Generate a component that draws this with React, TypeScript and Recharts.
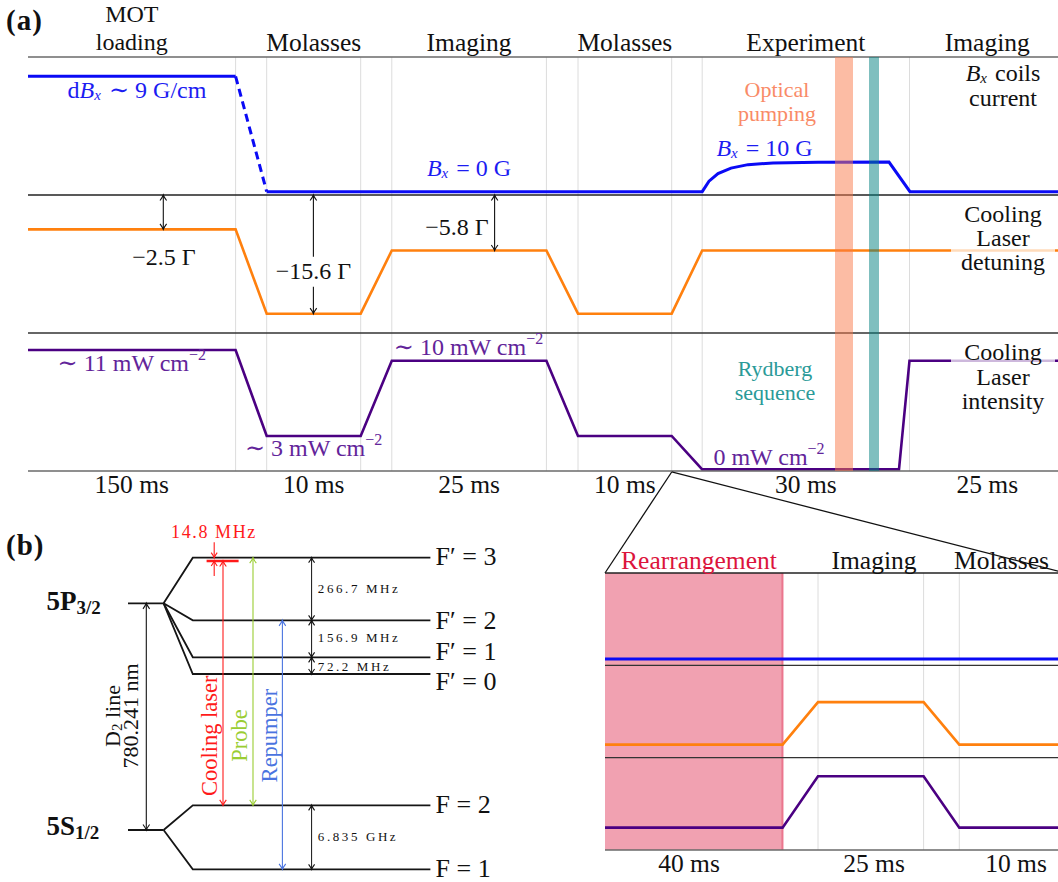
import {
  ComposedChart,
  Line,
  XAxis,
  YAxis,
  ReferenceLine,
  ReferenceArea,
  Scatter,
} from 'recharts'

const SERIF = '"Liberation Serif", "DejaVu Serif", serif'
const INK = '#111111'
const BLUE = '#0a0af5'
const ORANGE = '#ff800e'
const PURPLE = '#4b0082'
const BLUE_TXT = '#1c1cf2'
const PURPLE_TXT = '#62249a'
const SALMON_TXT = '#f98b67'
const TEAL_TXT = '#2a9a98'
const CRIMSON = '#dc143c'
const RED = '#ff1a1a'
const GREEN = '#9acd32'
const ROYAL = '#4a74e0'
const GRID = '#dcdcdc'

// ---------- (a) experimental sequence (schematic time, levels normalised per row)
const PHASES_A = ['MOT\nloading', 'Molasses', 'Imaging', 'Molasses', 'Experiment', 'Imaging']
const DURATIONS_A = ['150 ms', '10 ms', '25 ms', '10 ms', '30 ms', '25 ms']
const PHASE_SPANS_A = [
  [0, 207.6],
  [238.7, 332.7],
  [363.8, 518.4],
  [550, 643.7],
  [674.2, 881.5],
  [881.5, 1037],
]
const PHASE_CENTERS_A = PHASE_SPANS_A.map(([a, b]) => (a + b) / 2)
const STEP_EDGES_A = [207.6, 238.7, 332.7, 363.8, 518.4, 550, 643.7, 674.2, 881.5]

const COIL_MOT = [
  { t: 0, v: 0.86 },
  { t: 207.6, v: 0.86 },
]
const COIL_SWITCH_OFF = [
  { t: 207.6, v: 0.86 },
  { t: 238.7, v: 0.024 },
]
const COIL_REST = [
  { t: 238.7, v: 0.024 },
  { t: 674.2, v: 0.024 },
  { t: 681, v: 0.1 },
  { t: 690, v: 0.155 },
  { t: 703, v: 0.195 },
  { t: 720, v: 0.22 },
  { t: 745, v: 0.232 },
  { t: 790, v: 0.238 },
  { t: 861, v: 0.239 },
  { t: 882, v: 0.024 },
  { t: 1037, v: 0.024 },
]
const DETUNING_A = [
  { t: 0, v: 0.751 },
  { t: 207.6, v: 0.751 },
  { t: 238.7, v: 0.14 },
  { t: 332.7, v: 0.14 },
  { t: 363.8, v: 0.598 },
  { t: 518.4, v: 0.598 },
  { t: 550, v: 0.14 },
  { t: 643.7, v: 0.14 },
  { t: 674.2, v: 0.598 },
  { t: 1037, v: 0.598 },
]
const INTENSITY_A = [
  { t: 0, v: 0.877 },
  { t: 207.6, v: 0.877 },
  { t: 238.7, v: 0.254 },
  { t: 332.7, v: 0.254 },
  { t: 363.8, v: 0.799 },
  { t: 518.4, v: 0.799 },
  { t: 550, v: 0.254 },
  { t: 643.7, v: 0.254 },
  { t: 674.2, v: 0.012 },
  { t: 871, v: 0.012 },
  { t: 881.5, v: 0.799 },
  { t: 1037, v: 0.799 },
]
const OPTICAL_PUMPING = [807, 825]
const RYDBERG = [841, 851]

// detuning arrows, measured from the top of the row
const DET_ARROWS = [
  [{ t: 135.3, v: 1, head: 'up' }, { t: 135.3, v: 0.751, head: 'down' }],
  [{ t: 285.4, v: 1, head: 'up' }, { t: 285.4, v: 0.553 }],
  [{ t: 285.4, v: 0.336 }, { t: 285.4, v: 0.14, head: 'down' }],
  [{ t: 466.6, v: 1, head: 'up' }, { t: 466.6, v: 0.598, head: 'down' }],
]
// light boxes behind the row titles
const FADE_DET = [
  { t: 923, v: 0.598 },
  { t: 1027, v: 0.598 },
]
const FADE_INT = [
  { t: 923, v: 0.799 },
  { t: 1027, v: 0.799 },
]

const TEXT_A = [
  { t: 109, v: 2.761, label: 'dB', color: BLUE_TXT },
  { t: 441, v: 2.196, label: 'Bx0', color: BLUE_TXT },
  { t: 736.5, v: 2.341, label: 'Bx10', color: BLUE_TXT },
  { t: 749, v: 2.764, label: 'Optical', color: SALMON_TXT, size: 22 },
  { t: 749, v: 2.594, label: 'pumping', color: SALMON_TXT, size: 22 },
  { t: 975, v: 2.884, label: 'BxCoils' },
  { t: 975, v: 2.703, label: 'current' },
  { t: 136, v: 1.553, label: '−2.5 Γ' },
  { t: 285.5, v: 1.449, label: '−15.6 Γ' },
  { t: 429, v: 1.768, label: '−5.8 Γ' },
  { t: 975, v: 1.862, label: 'Cooling' },
  { t: 975, v: 1.688, label: 'Laser' },
  { t: 975, v: 1.517, label: 'detuning' },
  { t: 975, v: 0.865, label: 'Cooling' },
  { t: 975, v: 0.683, label: 'Laser' },
  { t: 975, v: 0.509, label: 'intensity' },
  { t: 103.8, v: 0.783, label: 'I11', color: PURPLE_TXT },
  { t: 285.6, v: 0.167, label: 'I3', color: PURPLE_TXT },
  { t: 440.5, v: 0.901, label: 'I10', color: PURPLE_TXT },
  { t: 741, v: 0.104, label: 'I0', color: PURPLE_TXT },
  { t: 747, v: 0.74, label: 'Rydberg', color: TEAL_TXT, size: 22 },
  { t: 747, v: 0.57, label: 'sequence', color: TEAL_TXT, size: 22 },
]

// ---------- (b) zoom on the rearrangement part
const PHASES_B = ['Rearrangement', 'Imaging', 'Molasses']
const PHASE_COLORS_B = [CRIMSON, INK, INK]
const PHASE_TICKS_B = [94, 269, 396.5]
const DURATIONS_B = ['40 ms', '25 ms', '10 ms']
const DURATION_TICKS_B = [84, 269, 411]
const REARRANGE_END = 177.6
const STEP_EDGES_B = [213, 318.6, 354.3]
const COIL_B = [
  { t: 0, v: 0.069 },
  { t: 460, v: 0.069 },
]
const DETUNING_B = [
  { t: 0, v: 0.141 },
  { t: 177.6, v: 0.141 },
  { t: 213, v: 0.602 },
  { t: 318.6, v: 0.602 },
  { t: 354.3, v: 0.141 },
  { t: 460, v: 0.141 },
]
const INTENSITY_B = [
  { t: 0, v: 0.242 },
  { t: 177.6, v: 0.242 },
  { t: 213, v: 0.798 },
  { t: 318.6, v: 0.798 },
  { t: 354.3, v: 0.242 },
  { t: 460, v: 0.242 },
]
const ZOOM_APEX = { x: 66.7, y: 4.094 }

// ---------- (b) Rb-87 D2 level scheme (schematic energies)
const FINE = [
  { name: 'P32', e: 278.7 },
  { name: 'S12', e: 52 },
]
const EXCITED = [
  { name: 'F′ = 3', e: 324.3, labelE: 325.3 },
  { name: 'F′ = 2', e: 261.7, labelE: 262 },
  { name: 'F′ = 1', e: 224.7, labelE: 230.3 },
  { name: 'F′ = 0', e: 208, labelE: 200.3 },
]
const GROUND = [
  { name: 'F = 2', e: 76.7, labelE: 78 },
  { name: 'F = 1', e: 12.7, labelE: 13.7 },
]
const SPLITTINGS = ['266.7 MHz', '156.9 MHz', '72.2 MHz', '6.835 GHz']
const COOLING_TOP = 321

const FINE_X = [128, 163.6]
const FAN_X = 192.8
const LEVEL_END_X = 430.4

const levelPath = (parent: number, e: number) => [
  { x: FINE_X[1], e: parent },
  { x: FAN_X, e },
  { x: LEVEL_END_X, e },
]
const arrow = (x: number, e1: number, e2: number) => [
  { x, e: e1, head: 'up' },
  { x, e: e2, head: 'down' },
]

const LEVEL_LINES = [
  ...FINE.map((f) => [
    { x: FINE_X[0], e: f.e },
    { x: FINE_X[1], e: f.e },
  ]),
  ...EXCITED.map((l) => levelPath(FINE[0].e, l.e)),
  ...GROUND.map((l) => levelPath(FINE[1].e, l.e)),
]
const SPLIT_ARROWS = [
  arrow(311.6, EXCITED[0].e, EXCITED[1].e),
  arrow(311.6, EXCITED[1].e, EXCITED[2].e),
  arrow(311.6, EXCITED[2].e, EXCITED[3].e),
  arrow(311.6, GROUND[0].e, GROUND[1].e),
]
const TRANSITIONS = [
  { color: RED, pts: arrow(223, COOLING_TOP, GROUND[0].e) },
  { color: GREEN, pts: arrow(253, EXCITED[0].e, GROUND[0].e) },
  { color: ROYAL, pts: arrow(282.4, EXCITED[1].e, GROUND[1].e) },
  { color: INK, pts: arrow(146.3, FINE[0].e, FINE[1].e) },
]
const DETUNING_BAR = [
  { x: 206.6, e: COOLING_TOP },
  { x: 238.6, e: COOLING_TOP },
]
const DETUNING_MARKS = [
  [{ x: 214.2, e: 339.7 }, { x: 214.2, e: EXCITED[0].e, head: 'down' }],
  [{ x: 214.2, e: 306 }, { x: 214.2, e: COOLING_TOP, head: 'up' }],
]

const TEXT_LEVELS = [
  ...EXCITED.map((l) => ({ x: 435.6, e: l.labelE, label: l.name, anchor: 'start', size: 26 })),
  ...GROUND.map((l) => ({ x: 435.6, e: l.labelE, label: l.name, anchor: 'start', size: 26 })),
  { x: 46.5, e: 281, label: 'P32', anchor: 'start' },
  { x: 46.5, e: 56, label: 'S12', anchor: 'start' },
  { x: 317.8, e: 293.3, label: SPLITTINGS[0], anchor: 'start', size: 13, spacing: 2.6 },
  { x: 317.8, e: 244.3, label: SPLITTINGS[1], anchor: 'start', size: 13, spacing: 2.6 },
  { x: 317.8, e: 216, label: SPLITTINGS[2], anchor: 'start', size: 13, spacing: 2.6 },
  { x: 317.8, e: 45.3, label: SPLITTINGS[3], anchor: 'start', size: 13, spacing: 2.6 },
  { x: 214, e: 350.3, label: '14.8 MHz', color: RED, size: 18, spacing: 1.6 },
  { x: 210, e: 146.2, label: 'Cooling laser', color: RED, rot: -90, size: 22.5 },
  { x: 239.3, e: 146.5, label: 'Probe', color: GREEN, rot: -90, size: 22.5 },
  { x: 269.5, e: 146.5, label: 'Repumper', color: ROYAL, rot: -90, size: 22.5 },
  { x: 112, e: 166, label: 'D2', rot: -90, size: 22 },
  { x: 130, e: 166, label: '780.241 nm', rot: -90, size: 22 },
]

const sub = (s: string, size = 15, dy = 5) => (
  <>
    <tspan fontSize={size} dy={dy} fontStyle="italic">
      {s}
    </tspan>
    <tspan dy={-dy}>{'\u200a'}</tspan>
  </>
)

const RICH: Record<string, JSX.Element> = {
  dB: (
    <>
      <tspan>d</tspan>
      <tspan fontStyle="italic">B</tspan>
      {sub('x')}
      <tspan> ∼ 9 G/cm</tspan>
    </>
  ),
  Bx0: (
    <>
      <tspan fontStyle="italic">B</tspan>
      {sub('x')}
      <tspan> = 0 G</tspan>
    </>
  ),
  Bx10: (
    <>
      <tspan fontStyle="italic">B</tspan>
      {sub('x')}
      <tspan> = 10 G</tspan>
    </>
  ),
  BxCoils: (
    <>
      <tspan fontStyle="italic">B</tspan>
      {sub('x')}
      <tspan> coils</tspan>
    </>
  ),
  I11: (
    <>
      <tspan>∼ 11 mW cm</tspan>
      <tspan fontSize={16} dy={-9}>−2</tspan>
    </>
  ),
  I3: (
    <>
      <tspan>∼ 3 mW cm</tspan>
      <tspan fontSize={16} dy={-9}>−2</tspan>
    </>
  ),
  I10: (
    <>
      <tspan>∼ 10 mW cm</tspan>
      <tspan fontSize={16} dy={-9}>−2</tspan>
    </>
  ),
  I0: (
    <>
      <tspan>0 mW cm</tspan>
      <tspan fontSize={16} dy={-9}>−2</tspan>
    </>
  ),
  P32: (
    <>
      <tspan fontWeight="bold">5P</tspan>
      <tspan fontWeight="bold" fontSize={19} dy={6}>
        3/2
      </tspan>
    </>
  ),
  S12: (
    <>
      <tspan fontWeight="bold">5S</tspan>
      <tspan fontWeight="bold" fontSize={19} dy={6}>
        1/2
      </tspan>
    </>
  ),
  D2: (
    <>
      <tspan>D</tspan>
      <tspan fontSize={15} dy={5}>
        2
      </tspan>
      <tspan dy={-5}> line</tspan>
    </>
  ),
}

const drawText = (p: any) => {
  const d = p.payload
  const bold = d.label === 'P32' || d.label === 'S12'
  return (
    <text
      x={p.cx}
      y={p.cy}
      textAnchor={d.anchor ?? 'middle'}
      dominantBaseline="central"
      fill={d.color ?? INK}
      fontSize={bold ? 27 : d.size ?? 24}
      fontFamily={SERIF}
      style={{ fontFamily: SERIF }}
      letterSpacing={d.spacing}
      transform={d.rot ? `rotate(${d.rot} ${p.cx} ${p.cy})` : undefined}
    >
      {RICH[d.label] ?? d.label}
    </text>
  )
}

const arrowDot = (color: string, size = 5.5) => (p: any) => {
  const { cx, cy, payload, index } = p
  if (!payload || !payload.head) return <g key={`n${index}`} />
  const s = payload.head === 'up' ? 1 : -1
  const w = size * 0.6
  return (
    <path
      key={`h${index}`}
      d={`M${cx - w},${cy + s * size} Q${cx - w * 0.2},${cy + s * size * 0.35} ${cx},${cy} Q${cx + w * 0.2},${cy + s * size * 0.35} ${cx + w},${cy + s * size}`}
      fill="none"
      stroke={color}
      strokeWidth={1.1}
    />
  )
}

const axisText = (
  x: number,
  y: number,
  text: string,
  color = INK,
  key?: number,
  size = 25.5
) => (
  <text
    key={key}
    x={x}
    y={y}
    textAnchor="middle"
    dominantBaseline="central"
    fontSize={size}
    fontFamily={SERIF}
    style={{ fontFamily: SERIF }}
    fill={color}
  >
    {text}
  </text>
)

const nearest = (arr: number[], v: number) => {
  let best = 0
  arr.forEach((a, i) => {
    if (Math.abs(a - v) < Math.abs(arr[best] - v)) best = i
  })
  return best
}

const PhaseTickA = (props: any) => {
  const { x, y, payload } = props
  const i = nearest(PHASE_CENTERS_A, payload.value)
  const lines = PHASES_A[i].split('\n')
  const size = lines.length > 1 ? 24 : 25.5
  return (
    <g>
      {lines.map((s, k) =>
        axisText(x, y - 15 - (lines.length - 1 - k) * 28, s, INK, k, size)
      )}
    </g>
  )
}
const DurationTickA = (props: any) => {
  const { x, y, payload } = props
  const i = nearest(PHASE_CENTERS_A, payload.value)
  return axisText(x, y + 13, DURATIONS_A[i])
}
const PhaseTickB = (props: any) => {
  const { x, y, payload } = props
  const i = nearest(PHASE_TICKS_B, payload.value)
  return axisText(x, y - 12.5, PHASES_B[i], PHASE_COLORS_B[i])
}
const DurationTickB = (props: any) => {
  const { x, y, payload } = props
  const i = nearest(DURATION_TICKS_B, payload.value)
  return axisText(x, y + 13, DURATIONS_B[i])
}

const line = (
  key: string,
  data: any[],
  yAxisId: string,
  stroke: string,
  width: number,
  extra: any = {}
) => (
  <Line
    key={key}
    data={data}
    dataKey="v"
    xAxisId="bottom"
    yAxisId={yAxisId}
    type="linear"
    stroke={stroke}
    strokeWidth={width}
    dot={false}
    isAnimationActive={false}
    {...extra}
  />
)

const SequenceChart = () => (
  <ComposedChart width={1065} height={500} margin={{ top: 0, right: 0, bottom: 0, left: 0 }}>
    <XAxis
      xAxisId="bottom"
      dataKey="t"
      type="number"
      domain={[0, 1037]}
      ticks={PHASE_CENTERS_A}
      interval={0}
      tick={(p: any) => <DurationTickA {...p} />}
      tickLine={false}
      tickSize={0}
      tickMargin={0}
      axisLine={{ stroke: '#6a6a6a', strokeWidth: 1.5 }}
      height={29}
    />
    <XAxis
      xAxisId="top"
      orientation="top"
      dataKey="t"
      type="number"
      domain={[0, 1037]}
      ticks={PHASE_CENTERS_A}
      interval={0}
      tick={(p: any) => <PhaseTickA {...p} />}
      tickLine={false}
      tickSize={0}
      tickMargin={0}
      axisLine={{ stroke: '#6a6a6a', strokeWidth: 1.5 }}
      height={57}
    />
    <YAxis yAxisId="b" type="number" domain={[-2, 1]} hide />
    <YAxis yAxisId="d" type="number" domain={[-1, 2]} hide />
    <YAxis
      yAxisId="i"
      type="number"
      domain={[0, 3]}
      width={28}
      tick={false}
      tickLine={false}
      axisLine={{ stroke: '#444', strokeWidth: 1.5 }}
    />
    {STEP_EDGES_A.map((t) => (
      <ReferenceLine key={`g${t}`} x={t} xAxisId="bottom" yAxisId="i" stroke={GRID} strokeWidth={1} />
    ))}
    <ReferenceLine y={1} xAxisId="bottom" yAxisId="i" stroke="#333" strokeWidth={1.3} />
    <ReferenceLine y={2} xAxisId="bottom" yAxisId="i" stroke="#222" strokeWidth={1.3} />

    {line('coilMot', COIL_MOT, 'b', BLUE, 3)}
    {line('coilOff', COIL_SWITCH_OFF, 'b', BLUE, 3, { strokeDasharray: '8 5' })}
    {line('coilRest', COIL_REST, 'b', BLUE, 3)}
    {line('det', DETUNING_A, 'd', ORANGE, 2.6)}
    {line('int', INTENSITY_A, 'i', PURPLE, 2.6)}
    {line('fadeDet', FADE_DET, 'd', '#ffffff', 4, { strokeOpacity: 0.72 })}
    {line('fadeInt', FADE_INT, 'i', '#ffffff', 4, { strokeOpacity: 0.72 })}
    {DET_ARROWS.map((seg, i) =>
      line(`arr${i}`, seg, 'd', INK, 1.1, { dot: arrowDot(INK) })
    )}

    <ReferenceArea
      xAxisId="bottom"
      yAxisId="i"
      x1={OPTICAL_PUMPING[0]}
      x2={OPTICAL_PUMPING[1]}
      y1={0}
      y2={3}
      fill="#fa7a4a"
      fillOpacity={0.5}
      stroke="none"
      zIndex={650}
    />
    <ReferenceArea
      xAxisId="bottom"
      yAxisId="i"
      x1={RYDBERG[0]}
      x2={RYDBERG[1]}
      y1={0}
      y2={3}
      fill="#008080"
      fillOpacity={0.5}
      stroke="none"
      zIndex={650}
    />
    <Scatter
      data={TEXT_A}
      dataKey="v"
      xAxisId="top"
      yAxisId="i"
      shape={drawText}
      isAnimationActive={false}
    />
  </ComposedChart>
)

const ZoomChart = () => (
  <ComposedChart width={465} height={422} margin={{ top: 0, right: 0, bottom: 0, left: 0 }}>
    <XAxis
      xAxisId="bottom"
      dataKey="t"
      type="number"
      domain={[0, 460]}
      ticks={DURATION_TICKS_B}
      interval={0}
      tick={(p: any) => <DurationTickB {...p} />}
      tickLine={false}
      tickSize={0}
      tickMargin={0}
      axisLine={{ stroke: '#6a6a6a', strokeWidth: 1.5 }}
      height={32}
    />
    <XAxis
      xAxisId="top"
      orientation="top"
      dataKey="t"
      type="number"
      domain={[0, 460]}
      ticks={PHASE_TICKS_B}
      interval={0}
      tick={(p: any) => <PhaseTickB {...p} />}
      tickLine={false}
      tickSize={0}
      tickMargin={0}
      axisLine={{ stroke: '#222', strokeWidth: 1.5 }}
      height={113}
    />
    <YAxis yAxisId="b" type="number" domain={[-2, 1]} hide />
    <YAxis yAxisId="d" type="number" domain={[-1, 2]} hide />
    <YAxis
      yAxisId="i"
      type="number"
      domain={[0, 3]}
      width={5}
      tick={false}
      tickLine={false}
      axisLine={{ stroke: '#222', strokeWidth: 1.5 }}
    />
    <ReferenceArea
      xAxisId="bottom"
      yAxisId="i"
      x1={0}
      x2={REARRANGE_END}
      y1={0}
      y2={3}
      fill={CRIMSON}
      fillOpacity={0.4}
      stroke="none"
    />
    <ReferenceLine
      x={REARRANGE_END}
      xAxisId="bottom"
      yAxisId="i"
      stroke={CRIMSON}
      strokeOpacity={0.45}
      strokeWidth={2}
    />
    {STEP_EDGES_B.map((t) => (
      <ReferenceLine key={`gb${t}`} x={t} xAxisId="bottom" yAxisId="i" stroke={GRID} strokeWidth={1} />
    ))}
    <ReferenceLine y={1} xAxisId="bottom" yAxisId="i" stroke="#333" strokeWidth={1.3} />
    <ReferenceLine y={2} xAxisId="bottom" yAxisId="i" stroke="#333" strokeWidth={1.3} />
    {line('coilB', COIL_B, 'b', BLUE, 3)}
    {line('detB', DETUNING_B, 'd', ORANGE, 2.6)}
    {line('intB', INTENSITY_B, 'i', PURPLE, 2.6, { xAxisId: 'top' })}
    <ReferenceLine
      xAxisId="bottom"
      yAxisId="i"
      segment={[{ x: 0, y: 3 }, ZOOM_APEX]}
      ifOverflow="visible"
      stroke={INK}
      strokeWidth={1.3}
    />
    <ReferenceLine
      xAxisId="bottom"
      yAxisId="i"
      segment={[ZOOM_APEX, { x: 460, y: 3 }]}
      ifOverflow="visible"
      stroke={INK}
      strokeWidth={1.3}
    />
  </ComposedChart>
)

const eLine = (key: string, data: any[], stroke: string, width: number, extra: any = {}) => (
  <Line
    key={key}
    data={data}
    dataKey="e"
    type="linear"
    stroke={stroke}
    strokeWidth={width}
    dot={false}
    isAnimationActive={false}
    {...extra}
  />
)

const LevelChart = () => (
  <ComposedChart width={600} height={382} margin={{ top: 0, right: 0, bottom: 0, left: 0 }}>
    <XAxis dataKey="x" type="number" domain={[0, 600]} hide />
    <YAxis type="number" domain={[0, 382]} hide />
    {LEVEL_LINES.map((d, i) => eLine(`lvl${i}`, d, '#151515', 1.8))}
    {SPLIT_ARROWS.map((d, i) => eLine(`sp${i}`, d, INK, 1, { dot: arrowDot(INK, 5) }))}
    {TRANSITIONS.map((tr, i) =>
      eLine(`tr${i}`, tr.pts, tr.color, 1.1, { dot: arrowDot(tr.color, 5.5) })
    )}
    {eLine('bar', DETUNING_BAR, RED, 2.4)}
    {DETUNING_MARKS.map((d, i) => eLine(`dm${i}`, d, RED, 1.1, { dot: arrowDot(RED, 5) }))}
    <Scatter data={TEXT_LEVELS} dataKey="e" shape={drawText} isAnimationActive={false} />
  </ComposedChart>
)

const panelLabel = (left: number, top: number) => ({
  position: 'absolute' as const,
  left,
  top,
  fontFamily: SERIF,
  fontWeight: 'bold' as const,
  fontSize: 29,
  lineHeight: '29px',
  letterSpacing: 1,
  color: INK,
})

export default function App() {
  return (
    <div
      style={{
        position: 'relative',
        width: 1058,
        height: 882,
        overflow: 'hidden',
        background: '#fff',
        fontFamily: SERIF,
      }}
    >
      <style>{'body{margin:0;overflow:hidden}'}</style>
      <div style={{ position: 'absolute', left: 0, top: 0 }}>
        <SequenceChart />
      </div>
      <div style={{ position: 'absolute', left: 0, top: 500 }}>
        <LevelChart />
      </div>
      <div style={{ position: 'absolute', left: 600, top: 460 }}>
        <ZoomChart />
      </div>
      <div style={panelLabel(6, 6)}>(a)</div>
      <div style={panelLabel(6, 531)}>(b)</div>
    </div>
  )
}
